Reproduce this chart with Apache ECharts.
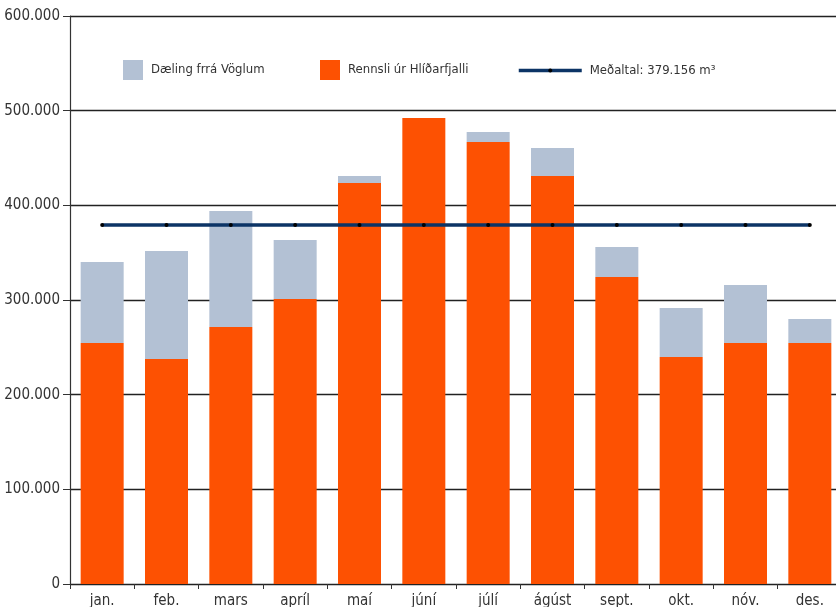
<!DOCTYPE html>
<html>
<head>
<meta charset="utf-8">
<script src="https://cdn.jsdelivr.net/npm/echarts@6/dist/echarts.min.js"></script>
<style>
html,body{margin:0;padding:0;background:#fff;}
#c{width:836px;height:607px;}
</style>
</head>
<body>
<div id="c"></div>
<script>
var categories = ['jan.', 'feb.', 'mars', 'apríl', 'maí', 'júní', 'júlí', 'ágúst', 'sept.', 'okt.', 'nóv.', 'des.'];
var rennsli = [254600, 237700, 271500, 301000, 423600, 492200, 466900, 431000, 324300, 239800, 254600, 254600];
var daeling = [85500, 114100, 122500, 62400, 7400, 0, 10600, 29600, 31700, 51700, 61200, 25300];
var medaltal = 379156;
var medaltalLine = categories.map(function () { return medaltal; });

var FONT = "'Liberation Sans Narrow', 'DejaVu Sans Condensed', sans-serif";
var chart = echarts.init(document.getElementById('c'), null, { renderer: 'canvas' });

function fmt(v) {
  if (v === 0) return '0';
  var s = String(Math.round(v));
  return s.replace(/\B(?=(\d{3})+(?!\d))/g, '.');
}

var legendText = { fontFamily: FONT, fontSize: 13, color: '#333', padding: [0, 0, 0, 3] };

chart.setOption({
  animation: false,
  backgroundColor: '#fff',
  grid: { left: 70, right: -6, top: 16, bottom: 23, containLabel: false, outerBoundsMode: 'none' },
  legend: [
    { data: ['Dæling frrá Vöglum'], left: 118, top: 55, itemWidth: 20, itemHeight: 20, textStyle: legendText, icon: 'rect' },
    { data: ['Rennsli úr Hlíðarfjalli'], left: 315, top: 55, itemWidth: 20, itemHeight: 20, textStyle: legendText, icon: 'rect' },
    { data: ['Meðaltal: 379.156 m³'], left: 512, top: 59, itemWidth: 63, itemHeight: 5, textStyle: legendText,
      lineStyle: { width: 3.5 } }
  ],
  xAxis: {
    type: 'category',
    data: categories,
    boundaryGap: true,
    axisLine: { show: true, lineStyle: { color: '#222', width: 1.2 } },
    axisTick: { show: true, length: 5, lineStyle: { color: '#333' } },
    axisLabel: { fontFamily: FONT, fontSize: 15, color: '#333', margin: 10 }
  },
  yAxis: {
    type: 'value',
    min: 0,
    max: 600000,
    interval: 100000,
    axisLine: { show: true, lineStyle: { color: '#333', width: 1.2 } },
    axisTick: { show: true, length: 7, inside: false, lineStyle: { color: '#333' } },
    axisLabel: { fontFamily: FONT, fontSize: 15, color: '#333', margin: 10, formatter: fmt },
    splitLine: { show: true, lineStyle: { color: '#222', width: 1.3 } }
  },
  series: [
    {
      name: 'Rennsli úr Hlíðarfjalli',
      type: 'bar',
      stack: 'total',
      barWidth: 43,
      data: rennsli,
      itemStyle: { color: '#fd5102' }
    },
    {
      name: 'Dæling frrá Vöglum',
      type: 'bar',
      stack: 'total',
      barWidth: 43,
      data: daeling,
      itemStyle: { color: '#b3c1d4' }
    },
    {
      name: 'Meðaltal: 379.156 m³',
      type: 'line',
      data: medaltalLine,
      symbol: 'circle',
      symbolSize: 4,
      showSymbol: true,
      itemStyle: { color: '#000' },
      lineStyle: { color: '#0c3466', width: 3.5 },
      z: 5
    }
  ]
});
</script>
</body>
</html>
